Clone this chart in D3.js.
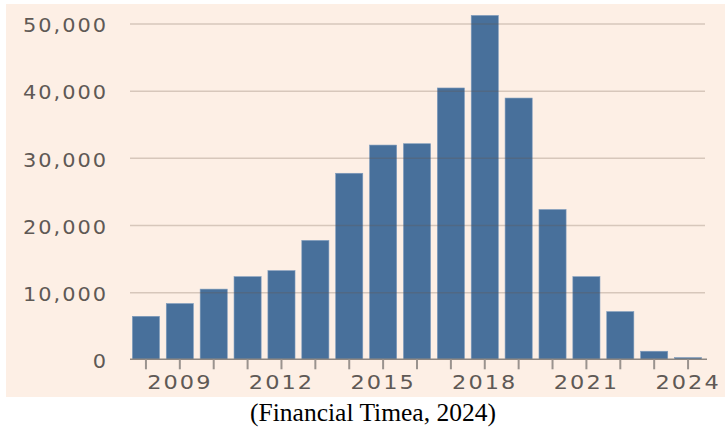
<!DOCTYPE html>
<html>
<head>
<meta charset="utf-8">
<script src="https://cdn.jsdelivr.net/npm/d3@7"></script>
<style>
  html, body { margin: 0; padding: 0; background: #ffffff; }
  svg { display: block; }
</style>
</head>
<body>
<svg id="chart" width="725" height="429"></svg>
<script>
// Yearly counts, 2008–2024
const years = ["2008","2009","2010","2011","2012","2013","2014","2015","2016",
               "2017","2018","2019","2020","2021","2022","2023","2024"];
const values = [6400, 8300, 10450, 12300, 13200, 17700, 27700, 31900, 32100,
                40400, 51200, 38900, 22300, 12300, 7100, 1200, 250];
const yTicks = [0, 10000, 20000, 30000, 40000, 50000];
const xLabelYears = ["2009","2012","2015","2018","2021","2024"];
const caption = "(Financial Timea, 2024)";

const svg = d3.select("#chart");

// panel background
svg.append("rect")
  .attr("x", 6).attr("y", 4)
  .attr("width", 719).attr("height", 393)
  .attr("fill", "#fdefe5");

const x = d3.scaleBand()
  .domain(years)
  .range([129, 705])
  .paddingInner(0.2)
  .paddingOuter(0.1);

const y = d3.scaleLinear()
  .domain([0, 50000])
  .range([359.3, 23.5]);

const fmt = d3.format(",");

// bars
svg.append("g")
  .selectAll("rect")
  .data(values)
  .join("rect")
  .attr("x", (d, i) => x(years[i]))
  .attr("y", d => y(d))
  .attr("width", x.bandwidth())
  .attr("height", d => y(0) - y(d))
  .attr("fill", "#48709b")
  .attr("stroke", "#7f9cbd")
  .attr("stroke-width", 0.6);

// horizontal gridlines (drawn over the bars, translucent)
const yAxis = d3.axisLeft(y).tickValues(yTicks.filter(v => v > 0))
  .tickSize(-(705 - 130)).tickFormat("");
const gGrid = svg.append("g")
  .attr("transform", "translate(130,0)")
  .call(yAxis);
gGrid.select(".domain").remove();
gGrid.selectAll(".tick line")
  .attr("stroke", "rgba(105,80,65,0.25)")
  .attr("stroke-width", 1.5);

// y tick labels (slightly widened glyphs)
svg.append("g")
  .selectAll("text")
  .data(yTicks)
  .join("text")
  .attr("transform", d => `translate(108,${y(d) + 8.8}) scale(1.1,1)`)
  .attr("text-anchor", "end")
  .attr("font-family", "'DejaVu Sans', sans-serif")
  .attr("font-size", 19)
  .attr("letter-spacing", 1.8)
  .attr("fill", "#5f5955")
  .text(d => fmt(d));

// x axis: baseline + ticks every year
const xAxis = d3.axisBottom(x).tickSizeInner(10).tickSizeOuter(0)
  .tickFormat(d => xLabelYears.includes(d) ? d : "");
const gx = svg.append("g")
  .attr("transform", `translate(0,${y(0)})`)
  .call(xAxis);
gx.select(".domain")
  .attr("d", `M130,0H707`)
  .attr("stroke", "#8e8782")
  .attr("stroke-width", 1.5);
gx.selectAll(".tick line")
  .attr("stroke", "#9a938e")
  .attr("stroke-width", 2);
gx.selectAll(".tick text")
  .attr("y", 0)
  .attr("dy", 0)
  .attr("transform", "translate(0,30) scale(1.15,1)")
  .attr("font-family", "'DejaVu Sans', sans-serif")
  .attr("font-size", 19.5)
  .attr("letter-spacing", 1.8)
  .attr("fill", "#5f5955");

// caption
svg.append("text")
  .attr("x", 373)
  .attr("y", 421)
  .attr("text-anchor", "middle")
  .attr("font-family", "'Liberation Serif', 'Times New Roman', serif")
  .attr("font-size", 25.5)
  .attr("fill", "#000")
  .text(caption);
</script>
</body>
</html>
